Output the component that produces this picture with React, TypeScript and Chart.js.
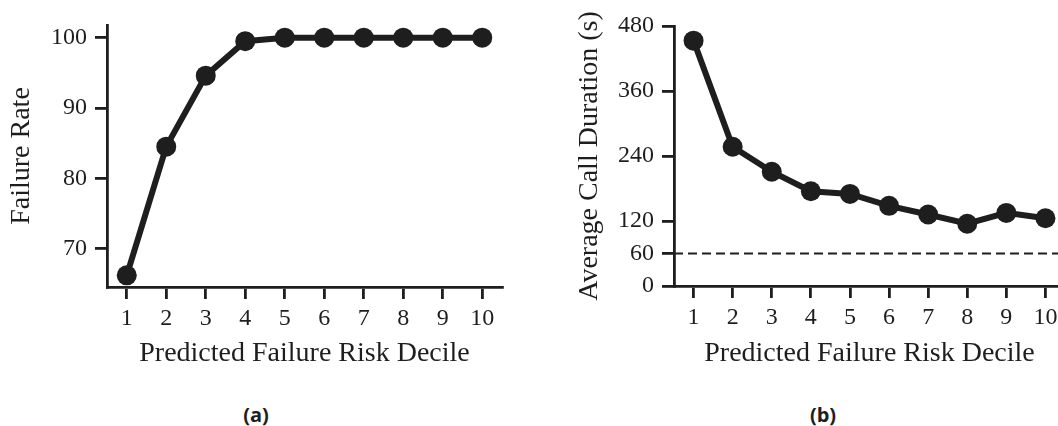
import React, { useEffect, useRef } from "react";
import { Chart, registerables } from "chart.js";

Chart.register(...registerables);

const deciles = [1, 2, 3, 4, 5, 6, 7, 8, 9, 10];
const failureRate = [66.2, 84.5, 94.6, 99.5, 100, 100, 100, 100, 100, 100];
const callDuration = [453, 257, 211, 175, 170, 148, 132, 115, 135, 125];
const failureTicks = [70, 80, 90, 100];
const durationTicks = [0, 60, 120, 240, 360, 480];
const thresholdSeconds = 60;
const xTitle = "Predicted Failure Risk Decile";
const leftYTitle = "Failure Rate";
const rightYTitle = "Average Call Duration (s)";
const captions = ["(a)", "(b)"];

const INK = "#1e1e1e";
const SERIF = "'Liberation Serif', 'Times New Roman', serif";

type PanelCfg = {
  values: number[];
  yTicks: number[];
  yMin: number;
  yMax: number;
  yTitle: string;
  yTitlePad: number;
  yScaleWidth: number;
  padTop: number;
  padRight: number;
  chartBottom: number;
  height: number;
  threshold?: number;
};

function buildConfig(cfg: PanelCfg): any {
  const datasets: any[] = [
    {
      data: deciles.map((d, i) => ({ x: d, y: cfg.values[i] })),
      borderColor: INK,
      backgroundColor: INK,
      borderWidth: 6,
      pointRadius: 10,
      pointBackgroundColor: INK,
      pointBorderWidth: 0,
      tension: 0,
      clip: false,
      order: 1,
    },
  ];
  if (cfg.threshold !== undefined) {
    datasets.push({
      data: [
        { x: 0.5, y: cfg.threshold },
        { x: 10.5, y: cfg.threshold },
      ],
      borderColor: INK,
      borderWidth: 2.2,
      borderDash: [9, 5],
      pointRadius: 0,
      clip: false,
      order: 2,
    });
  }
  const tickFont = { family: SERIF, size: 24 };
  const titleFont = { family: SERIF, size: 28 };
  return {
    type: "line",
    data: { datasets },
    options: {
      animation: false,
      responsive: false,
      maintainAspectRatio: false,
      events: [],
      layout: { padding: { left: 0, top: cfg.padTop, right: cfg.padRight, bottom: 0 } },
      plugins: { legend: { display: false }, tooltip: { enabled: false } },
      scales: {
        x: {
          type: "linear",
          min: 0.5,
          max: 10.5,
          afterBuildTicks: (s: any) => {
            s.ticks = deciles.map((v) => ({ value: v }));
          },
          afterFit: (s: any) => {
            s.height = cfg.height - cfg.chartBottom;
          },
          ticks: {
            color: INK,
            font: tickFont,
            padding: 5,
            maxRotation: 0,
            autoSkip: false,
            callback: (v: any) => String(v),
          },
          grid: {
            display: true,
            drawOnChartArea: false,
            drawTicks: true,
            tickLength: 12,
            color: INK,
            lineWidth: 2.8,
          },
          border: { display: true, color: INK, width: 2.8 },
          title: {
            display: true,
            text: xTitle,
            color: INK,
            font: titleFont,
            padding: { top: 0, bottom: 10 },
          },
        },
        y: {
          type: "linear",
          min: cfg.yMin,
          max: cfg.yMax,
          afterBuildTicks: (s: any) => {
            s.ticks = cfg.yTicks.map((v) => ({ value: v }));
          },
          afterFit: (s: any) => {
            s.width = cfg.yScaleWidth;
          },
          ticks: {
            color: INK,
            font: tickFont,
            padding: 8,
            autoSkip: false,
            callback: (v: any) => String(v),
          },
          grid: {
            display: true,
            drawOnChartArea: false,
            drawTicks: true,
            tickLength: 12,
            color: INK,
            lineWidth: 2.8,
          },
          border: { display: true, color: INK, width: 2.8 },
          title: {
            display: true,
            text: cfg.yTitle,
            color: INK,
            font: titleFont,
            padding: { top: cfg.yTitlePad, bottom: 0 },
          },
        },
      },
    },
  };
}

function Panel(props: { cfg: PanelCfg; left: number; width: number }) {
  const ref = useRef<HTMLCanvasElement | null>(null);
  useEffect(() => {
    if (!ref.current) return;
    const chart = new Chart(ref.current, buildConfig(props.cfg));
    return () => chart.destroy();
  }, []);
  return (
    <div
      style={{
        position: "absolute",
        left: props.left,
        top: 0,
        width: props.width,
        height: props.cfg.height,
      }}
    >
      <canvas
        ref={ref}
        width={props.width}
        height={props.cfg.height}
        style={{ width: props.width, height: props.cfg.height, display: "block" }}
      />
    </div>
  );
}

const leftCfg: PanelCfg = {
  values: failureRate,
  yTicks: failureTicks,
  yMin: 64.54,
  yMax: 101.8,
  yTitle: leftYTitle,
  yTitlePad: 5,
  yScaleWidth: 107,
  padTop: 25,
  padRight: 28,
  chartBottom: 287,
  height: 380,
};

const rightCfg: PanelCfg = {
  values: callDuration,
  yTicks: durationTicks,
  yMin: 0,
  yMax: 480,
  yTitle: rightYTitle,
  yTitlePad: 43,
  yScaleWidth: 144,
  padTop: 26,
  padRight: 25,
  chartBottom: 286,
  height: 380,
  threshold: thresholdSeconds,
};

export default function App() {
  const capStyle: React.CSSProperties = {
    position: "absolute",
    top: 402,
    width: 60,
    textAlign: "center",
    fontFamily: "'Open Sans', 'Noto Sans', sans-serif",
    fontWeight: 700,
    fontSize: 20,
    color: INK,
    lineHeight: "26px",
  };
  return (
    <div
      style={{
        position: "absolute",
        left: 0,
        top: 0,
        width: 1058,
        height: 426,
        overflow: "hidden",
        background: "#fff",
      }}
    >
      <Panel cfg={leftCfg} left={0} width={530} />
      <Panel cfg={rightCfg} left={530} width={560} />
      <div style={{ ...capStyle, left: 256 - 30 }}>{captions[0]}</div>
      <div style={{ ...capStyle, left: 823 - 30 }}>{captions[1]}</div>
    </div>
  );
}
